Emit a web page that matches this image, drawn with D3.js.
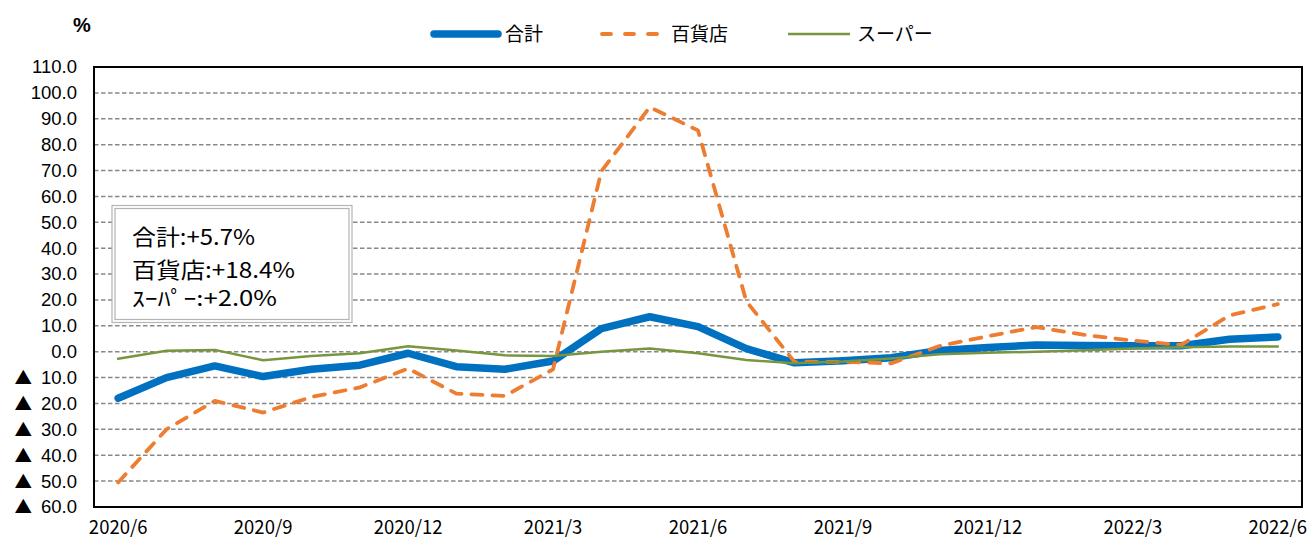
<!DOCTYPE html>
<html>
<head>
<meta charset="utf-8">
<script src="https://cdn.jsdelivr.net/npm/d3@7"></script>
<style>
  html, body { margin: 0; padding: 0; background: #fff; }
  svg { display: block; }
</style>
</head>
<body>
<svg id="chart" width="1309" height="541"></svg>
<script>
// ---- data ----
const months = ["2020/6","2020/7","2020/8","2020/9","2020/10","2020/11","2020/12",
  "2021/1","2021/2","2021/3","2021/4","2021/5","2021/6","2021/7","2021/8","2021/9",
  "2021/10","2021/11","2021/12","2022/1","2022/2","2022/3","2022/4","2022/5","2022/6"];
const total = [-18.0,-10.0,-5.5,-9.6,-6.8,-5.2,-0.6,-5.8,-6.8,-3.6,8.9,13.5,9.7,1.2,-4.3,
  -3.5,-2.3,0.5,1.6,2.6,2.4,2.3,2.3,4.8,5.7];
const deptStore = [-50.5,-30.0,-19.0,-23.5,-17.5,-13.8,-6.5,-16.2,-17.1,-6.8,69.7,94.5,85.5,19.5,-4.0,
  -3.9,-4.5,2.2,6.0,9.5,6.5,4.3,2.6,14.0,18.4];
const supermarket = [-2.7,0.4,0.7,-3.3,-1.7,-0.6,2.1,0.5,-1.4,-1.7,0.0,1.2,-0.6,-3.2,-4.5,
  -3.8,-2.6,-1.0,-0.4,0.0,0.6,1.2,1.7,2.0,2.0];
const seriesNames = ["合計","百貨店","スーパー"];
const xTickLabels = ["2020/6","2020/9","2020/12","2021/3","2021/6","2021/9","2021/12","2022/3","2022/6"];
const yTicks = [-60,-50,-40,-30,-20,-10,0,10,20,30,40,50,60,70,80,90,100,110];
const notes = ["合計:+5.7%","百貨店:+18.4%","ｽｰﾊﾟｰ:+2.0%"];

// ---- layout ----
const svg = d3.select("#chart");
const L = 94, R = 1302, T = 67, B = 507;
const x = d3.scaleBand().domain(months).range([L, R]);
const y = d3.scaleLinear().domain([-60, 110]).range([B, T]);
const cx = m => x(m) + x.bandwidth() / 2;

// gridlines
svg.append("g").selectAll("line")
  .data(yTicks.filter(v => v > -60 && v < 110))
  .join("line")
  .attr("x1", L).attr("x2", R)
  .attr("y1", d => y(d)).attr("y2", d => y(d))
  .attr("stroke", "#888").attr("stroke-width", 1.5)
  .attr("stroke-dasharray", "4.5,2.5");

// plot frame
svg.append("rect").attr("x", L).attr("y", T).attr("width", R - L).attr("height", B - T)
  .attr("fill", "none").attr("stroke", "#000").attr("stroke-width", 2);

// y axis
const yAxis = svg.append("g").attr("transform", `translate(${L},0)`)
  .call(d3.axisLeft(y).tickValues(yTicks).tickSize(0).tickPadding(17)
    .tickFormat(d => Math.abs(d).toFixed(1)));
yAxis.select(".domain").remove();
yAxis.selectAll("text").attr("font-family", "'Liberation Sans', Arial, sans-serif")
  .attr("font-size", 18.5).attr("fill", "#000")
  .each(function(d) {
    if (d < 0) {
      const t = d3.select(this);
      const num = t.text();
      t.text(null);
      t.append("tspan").attr("font-family", "'Noto Sans CJK JP', sans-serif")
        .attr("font-size", 17.5).text("▲");
      t.append("tspan").attr("dx", 9).text(num);
    }
  });

// x axis
const xAxis = svg.append("g").attr("transform", `translate(0,${B})`)
  .call(d3.axisBottom(x).tickValues(xTickLabels).tickSize(0).tickPadding(14));
xAxis.select(".domain").remove();
xAxis.selectAll("text")
  .attr("font-family", "'Noto Sans CJK JP', sans-serif")
  .attr("font-size", 18.5).attr("fill", "#000");

// "%" unit
svg.append("text").attr("x", 82).attr("y", 32).attr("text-anchor", "middle")
  .attr("font-family", "'Liberation Sans', Arial, sans-serif").attr("font-weight", "bold")
  .attr("font-size", 20).text("%");

// lines
const line = d3.line().x((d, i) => cx(months[i])).y(d => y(d));
const styles = [
  { data: total, color: "#0070C0", width: 7.5, dash: null },
  { data: deptStore, color: "#ED7D31", width: 3.8, dash: "11,10" },
  { data: supermarket, color: "#77963F", width: 2.5, dash: null }
];
styles.forEach(s => {
  svg.append("path").datum(s.data).attr("d", line)
    .attr("fill", "none").attr("stroke", s.color).attr("stroke-width", s.width)
    .attr("stroke-linejoin", "round").attr("stroke-linecap", "round")
    .attr("stroke-dasharray", s.dash);
});

// legend
const legendItems = [
  { x1: 434, x2: 498, tx: 505 },
  { x1: 602, x2: 664, tx: 671 },
  { x1: 788, x2: 850, tx: 857 }
];
legendItems.forEach((it, i) => {
  const s = styles[i];
  svg.append("line").attr("x1", it.x1).attr("x2", it.x2).attr("y1", 34).attr("y2", 34)
    .attr("stroke", s.color).attr("stroke-width", s.width)
    .attr("stroke-linecap", i === 2 ? "butt" : "round")
    .attr("stroke-dasharray", s.dash ? "9,14" : null);
  svg.append("text").attr("x", it.tx).attr("y", 34).attr("dy", "0.36em")
    .attr("font-family", "'Noto Sans CJK JP', sans-serif").attr("font-size", 19)
    .attr("fill", "#000").text(seriesNames[i]);
});

// annotation box
const box = svg.append("g");
box.append("rect").attr("x", 112).attr("y", 205.5).attr("width", 240).attr("height", 117)
  .attr("fill", "#fff").attr("stroke", "#b4b4b4").attr("stroke-width", 1.2);
box.append("rect").attr("x", 115).attr("y", 208.5).attr("width", 234).attr("height", 111)
  .attr("fill", "none").attr("stroke", "#b4b4b4").attr("stroke-width", 1.2);
const noteLayout = [
  { y: 245, size: 22, len: 123 },
  { y: 278, size: 22, len: 163 },
  { y: 306, size: 21, len: 145 }
];
notes.forEach((t, i) => {
  box.append("text").attr("x", 132).attr("y", noteLayout[i].y)
    .attr("font-family", "'Noto Sans CJK JP', sans-serif").attr("font-size", noteLayout[i].size)
    .attr("textLength", noteLayout[i].len).attr("lengthAdjust", "spacingAndGlyphs")
    .attr("fill", "#000").text(t);
});
</script>
</body>
</html>
